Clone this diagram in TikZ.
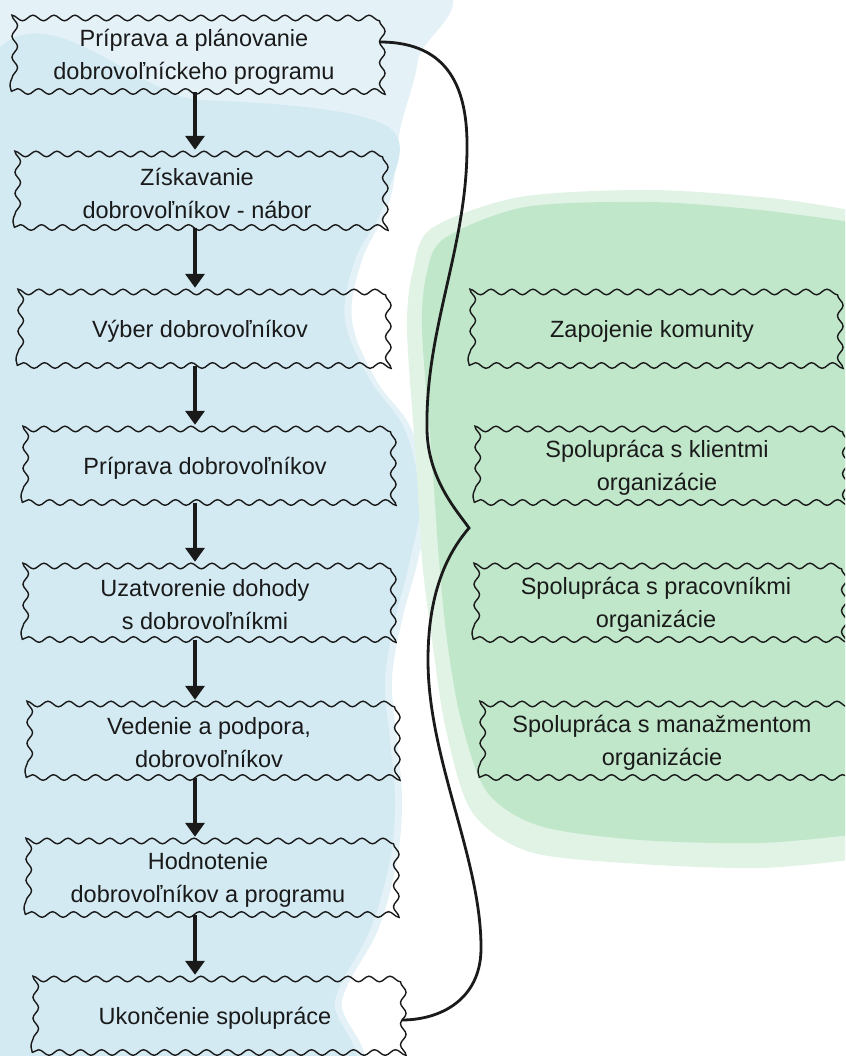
\documentclass[tikz,border=0pt]{standalone}
\usepackage{fontspec}
\setmainfont{Liberation Sans}
\usetikzlibrary{decorations.pathmorphing,arrows.meta}
\definecolor{bgblue}{HTML}{D3EAF3}
\definecolor{bgbluelight}{HTML}{E4F2F8}
\definecolor{bggreen}{HTML}{C0E7CA}
\definecolor{bggreenlight}{HTML}{E0F3E5}
\definecolor{ink}{HTML}{1A1A1A}
\begin{document}
\begin{tikzpicture}[x=1pt,y=-1pt,
  wbox/.style={draw=ink, line width=1.4pt, decorate,
    decoration={snake,segment length=21pt,amplitude=2.8pt},
    minimum width=366pt, minimum height=77pt, inner sep=0pt},
  lbl/.style={align=center, text=ink, font=\fontsize{23.5}{33}\selectfont,
    inner sep=0pt, yshift=-4pt},
  flow/.style={draw=ink, line width=3.4pt, -{Triangle[width=19pt,length=14pt]}},
  bracestyle/.style={draw=ink, line width=2.8pt}]
\useasboundingbox (0,0) rectangle (845,1056);
\clip (0,0) rectangle (845,1056);
% watercolour backgrounds
\fill[bgbluelight] plot[smooth cycle, tension=0.6] coordinates {(-30,-30) (420,-20) (418,60) (400,130) (390,200) (362,260) (352,320) (376,380) (412,430) (428,500) (418,560) (402,620) (392,680) (397,740) (402,800) (397,860) (378,930) (342,1000) (338,1080) (-30,1090)};
\fill[bgblue] plot[smooth cycle, tension=0.6] coordinates {(-30,110) (200,100) (385,125) (385,200) (355,260) (345,320) (370,380) (405,430) (420,500) (410,560) (395,620) (385,680) (390,740) (395,800) (390,860) (370,930) (335,1000) (330,1080) (-30,1090)};
\fill[bggreenlight] plot[smooth, tension=0.5] coordinates {(850,860) (760,868) (640,864) (530,852) (472,812) (446,730) (432,640) (422,560) (416,460) (407,330) (413,270) (432,228) (520,197) (650,190) (770,198) (850,210)} -- (900,210) -- (900,860) -- cycle;
\fill[bggreen] plot[smooth, tension=0.5] coordinates {(850,835) (760,843) (640,840) (540,826) (487,792) (461,720) (447,640) (439,560) (432,460) (422,330) (427,272) (445,238) (525,207) (650,202) (760,210) (850,222)} -- (900,222) -- (900,835) -- cycle;
% left column
\node[wbox, label={[lbl]center:{Príprava a plánovanie\\dobrovoľníckeho programu}}] (b1) at (194,53) {};
\node[wbox, label={[lbl]center:{Získavanie\\dobrovoľníkov - nábor}}] (b2) at (197,189) {};
\node[wbox, label={[lbl]center:{Výber dobrovoľníkov}}] (b3) at (200,327) {};
\node[wbox, label={[lbl]center:{Príprava dobrovoľníkov}}] (b4) at (205,464) {};
\node[wbox, label={[lbl]center:{Uzatvorenie dohody\\s dobrovoľníkmi}}] (b5) at (205,601) {};
\node[wbox, label={[lbl]center:{Vedenie a podpora,\\dobrovoľníkov}}] (b6) at (209,739) {};
\node[wbox, label={[lbl]center:{Hodnotenie\\dobrovoľníkov a programu}}] (b7) at (208,876) {};
\node[wbox, label={[lbl]center:{Ukončenie spolupráce}}] (b8) at (215,1014) {};
% right column
\node[wbox, label={[lbl]center:{Zapojenie komunity}}] (g1) at (652,327) {};
\node[wbox, label={[lbl]center:{Spolupráca s klientmi\\organizácie}}] (g2) at (657,464) {};
\node[wbox, label={[lbl]center:{Spolupráca s pracovníkmi\\organizácie}}] (g3) at (656,601) {};
\node[wbox, label={[lbl]center:{Spolupráca s manažmentom\\organizácie}}] (g4) at (662,739) {};
% arrows
\coordinate (ax) at (195,0);
\draw[flow] (b1.south -| ax) -- (b2.north -| ax);
\draw[flow] (b2.south -| ax) -- (b3.north -| ax);
\draw[flow] (b3.south -| ax) -- (b4.north -| ax);
\draw[flow] (b4.south -| ax) -- (b5.north -| ax);
\draw[flow] (b5.south -| ax) -- (b6.north -| ax);
\draw[flow] (b6.south -| ax) -- (b7.north -| ax);
\draw[flow] (b7.south -| ax) -- (b8.north -| ax);
% brace
\coordinate (tip) at (469,528);
\draw[bracestyle] ([xshift=2pt,yshift=11pt]b1.east) .. controls (450,42) and (468,90) .. (467,150)
  .. controls (466,250) and (425,330) .. (427,430)
  .. controls (428,480) and (458,512) .. (tip)
  .. controls (452,548) and (428,585) .. (428,660)
  .. controls (428,760) and (482,860) .. (481,950)
  .. controls (480,1000) and (440,1020) .. ([xshift=3pt,yshift=-6pt]b8.east);
\end{tikzpicture}
\end{document}
